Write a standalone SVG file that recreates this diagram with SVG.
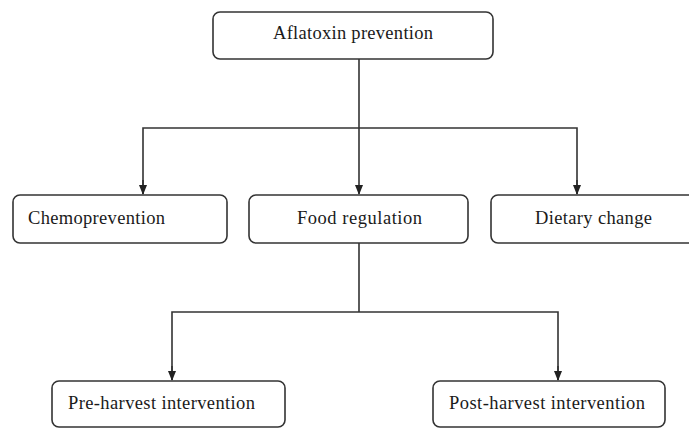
<svg xmlns="http://www.w3.org/2000/svg" width="689" height="429" viewBox="0 0 689 429">
<style>
.box{fill:#fff;stroke:#333;stroke-width:1.6}
.lbl{font-family:"Liberation Serif","DejaVu Serif",serif;font-size:18.5px;fill:#1a1a1a}
.ln{fill:none;stroke:#333;stroke-width:1.6}
</style>
<defs>
<marker id="ah" markerWidth="10" markerHeight="10" refX="9" refY="5" orient="auto" markerUnits="userSpaceOnUse">
<path d="M0,1 L10,5 L0,9 Z" fill="#222"/>
</marker>
</defs>
<rect width="689" height="429" fill="#fff"/>
<g id="connectors">
<line class="ln" x1="359" y1="59" x2="359" y2="194" marker-end="url(#ah)"/>
<polyline class="ln" points="143,194 143,128 577,128 577,194" />
<line class="ln" x1="143" y1="180" x2="143" y2="194" marker-end="url(#ah)"/>
<line class="ln" x1="577" y1="180" x2="577" y2="194" marker-end="url(#ah)"/>
<line class="ln" x1="359" y1="243" x2="359" y2="312"/>
<polyline class="ln" points="172,380 172,312 558,312 558,380"/>
<line class="ln" x1="172" y1="366" x2="172" y2="380" marker-end="url(#ah)"/>
<line class="ln" x1="558" y1="366" x2="558" y2="380" marker-end="url(#ah)"/>
</g>
<g id="n-aflatoxin">
<rect class="box" x="213" y="12" width="280" height="47" rx="7"/>
<text class="lbl" x="273" y="39" textLength="160">Aflatoxin prevention</text>
</g>
<g id="n-chemo">
<rect class="box" x="13" y="195" width="214" height="48" rx="7"/>
<text class="lbl" x="28" y="224" textLength="137">Chemoprevention</text>
</g>
<g id="n-food">
<rect class="box" x="249" y="195" width="219" height="48" rx="7"/>
<text class="lbl" x="297" y="224" textLength="125">Food regulation</text>
</g>
<g id="n-diet">
<rect class="box" x="491" y="195" width="205" height="48" rx="7"/>
<text class="lbl" x="535" y="224" textLength="117">Dietary change</text>
</g>
<g id="n-pre">
<rect class="box" x="52" y="381" width="233" height="46" rx="7"/>
<text class="lbl" x="68" y="409" textLength="187">Pre-harvest intervention</text>
</g>
<g id="n-post">
<rect class="box" x="433" y="381" width="232" height="46" rx="7"/>
<text class="lbl" x="449" y="409" textLength="196">Post-harvest intervention</text>
</g>
</svg>
